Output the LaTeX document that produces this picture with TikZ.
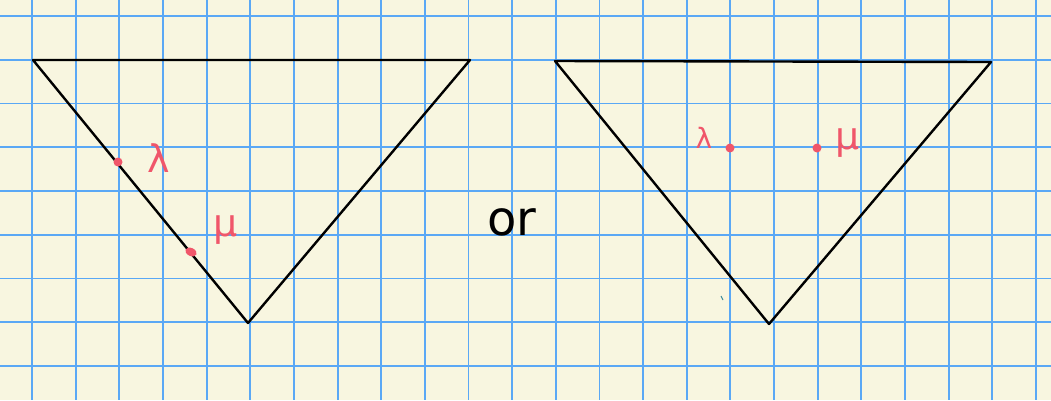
\documentclass[tikz,border=0pt]{standalone}
\usepackage{fontspec}
\usetikzlibrary{shapes.geometric}
\setsansfont{DejaVu Sans}
\newfontfamily\greekhand{DejaVu Sans}
\definecolor{paper}{HTML}{F8F6E0}
\definecolor{gridblue}{HTML}{5AA8F5}
\definecolor{penred}{HTML}{F0566A}
\definecolor{specks}{HTML}{3A8A9A}
\begin{document}
\begin{tikzpicture}[x=1pt,y=-1pt,
  gridline/.style={draw=gridblue,line width=1.9pt},
  edge/.style={draw=black,line width=2.4pt,line join=round,line cap=round},
  dot/.style={circle,fill=penred,inner sep=0pt,minimum size=9pt},
  lbl/.style={text=penred,inner sep=0pt,font=\greekhand\fontsize{38}{38}\selectfont},
  word/.style={text=black,inner sep=0pt,font=\sffamily\fontsize{48}{48}\selectfont}]
\fill[paper] (0,0) rectangle (1051,400);
\useasboundingbox (0,0) rectangle (1051,400);
\foreach \k in {0,...,23} {\draw[gridline] ({32+43.65*\k},0) -- ({32+43.65*\k},400);}
\foreach \k in {0,...,8} {\draw[gridline] (0,{16+43.75*\k}) -- (1051,{16+43.75*\k});}
% left triangle
\coordinate (a1) at (33,60);
\coordinate (b1) at (470,60);
\coordinate (c1) at (248,323);
\draw[edge] (a1) -- (b1) -- (c1) -- cycle;
\node[dot] (l1) at (118,162) {};
\node[ellipse,fill=penred,inner sep=0pt,minimum width=12pt,minimum height=8pt,rotate=-25] (m1) at (191,252) {};
\node[lbl] (tl1) at (159,158) {λ};
\node[lbl] (tm1) at (226,230) {μ};
% or
\node[word] (or) at (512,222) {or};
% right triangle
\coordinate (a2) at (555,61);
\coordinate (b2) at (991,62);
\coordinate (c2) at (769,324);
\draw[edge] (a2) -- (b2) -- (c2) -- cycle;
\node[dot] (l2) at (730,148) {};
\node[dot] (m2) at (817,148) {};
\node[lbl,font=\greekhand\fontsize{28}{28}\selectfont] (tl2) at (704,138) {λ};
\node[lbl] (tm2) at (848,143) {μ};
\coordinate (s1) at (721,296);
\coordinate (s2) at (723,300);
\draw[specks,line width=1pt] (s1) -- (s2);
\end{tikzpicture}
\end{document}
